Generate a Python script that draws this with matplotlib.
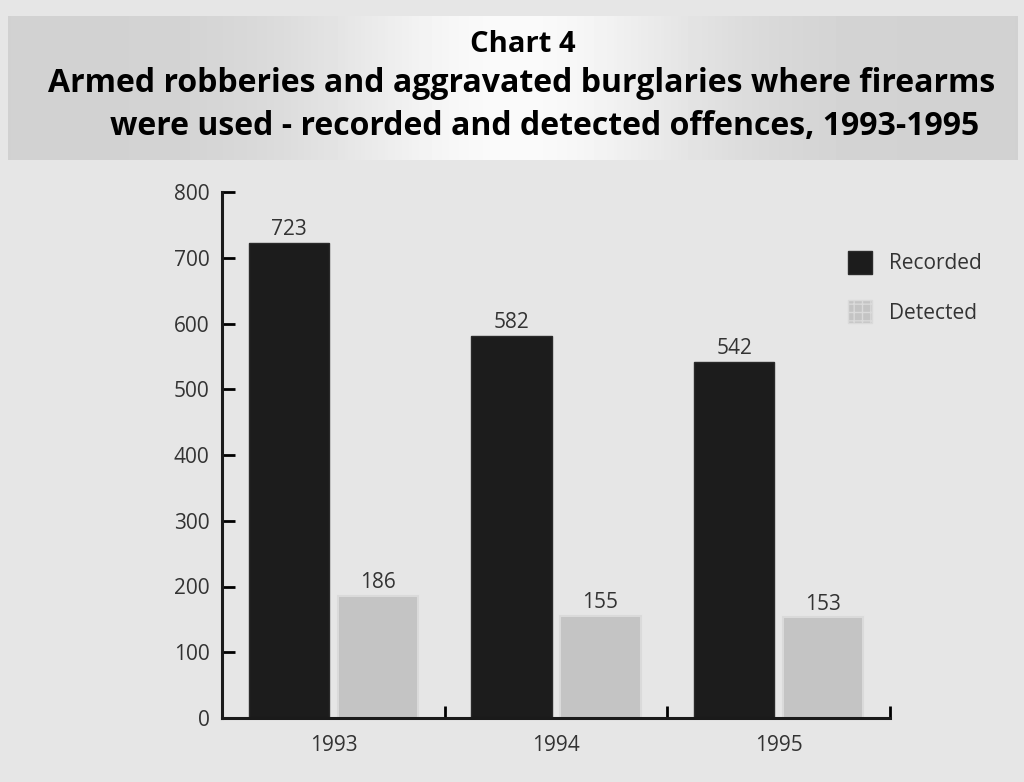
import numpy as np
import matplotlib
matplotlib.use("Agg")
import matplotlib.pyplot as plt
from matplotlib.patches import Patch

years = ["1993", "1994", "1995"]
recorded = [723, 582, 542]
detected = [186, 155, 153]
yticks = [0, 100, 200, 300, 400, 500, 600, 700, 800]

plt.rcParams["font.family"] = ["Open Sans", "DejaVu Sans"]

fig = plt.figure(figsize=(10.24, 7.82), dpi=100)
fig.patch.set_facecolor("#e6e6e6")

# title band: grey gradient, lighter in the middle
band = fig.add_axes([0.008, 0.795, 0.986, 0.185])
xs = np.linspace(-1, 1, 300)
shade = 0.82 + 0.16 * np.exp(-(xs / 0.4) ** 2)
band.imshow(np.tile(shade, (20, 1)), cmap="gray", vmin=0, vmax=1, aspect="auto",
            extent=[0, 1, 0, 1])
band.set_axis_off()

fig.text(0.511, 0.943, "Chart 4", ha="center", va="center", fontsize=21, weight="bold")
fig.text(0.509, 0.893, "Armed robberies and aggravated burglaries where firearms",
         ha="center", va="center", fontsize=23, weight="bold")
fig.text(0.532, 0.838, "were used - recorded and detected offences, 1993-1995",
         ha="center", va="center", fontsize=23, weight="bold")

ax = fig.add_axes([0.217, 0.082, 0.652, 0.672])
ax.patch.set_alpha(0)
x = np.arange(len(years))
w = 0.36
b1 = ax.bar(x - 0.2, recorded, w, color="#1c1c1c", edgecolor="#2a2a2a")
b2 = ax.bar(x + 0.2, detected, w, color="#c4c4c4", edgecolor="#dadada", lw=1.5)
for bars, vals in ((b1, recorded), (b2, detected)):
    for r, v in zip(bars, vals):
        ax.annotate(str(v), (r.get_x() + r.get_width() / 2, v), xytext=(0, 2),
                    textcoords="offset points", ha="center", va="bottom",
                    fontsize=15, color="#333333")

ax.set_xlim(-0.5, 2.5)
ax.set_ylim(0, 800)
ax.set_yticks(yticks)
ax.tick_params(axis="y", direction="in", length=9, width=2, labelsize=15,
               labelcolor="#333333", pad=9)
ax.set_xticks(x)
ax.set_xticklabels(years)
ax.tick_params(axis="x", length=0, labelsize=15, labelcolor="#333333", pad=12)
ax.set_xticks([0.5, 1.5, 2.5], minor=True)
ax.tick_params(axis="x", which="minor", direction="in", length=9, width=2)
for s in ("top", "right"):
    ax.spines[s].set_visible(False)
for s in ("left", "bottom"):
    ax.spines[s].set_linewidth(2.2)
    ax.spines[s].set_color("#1a1a1a")

handles = [Patch(facecolor="#1c1c1c", edgecolor="#2a2a2a"),
           Patch(facecolor="#c4c4c4", edgecolor="#dadada", hatch="++")]
fig.legend(handles, ["Recorded", "Detected"], loc="upper left",
           bbox_to_anchor=(0.81, 0.703), frameon=False, fontsize=15,
           handlelength=1.15, handleheight=1.3, labelspacing=1.25,
           handletextpad=0.8, labelcolor="#333333")

fig.savefig("out.png", dpi=100, facecolor=fig.get_facecolor())
